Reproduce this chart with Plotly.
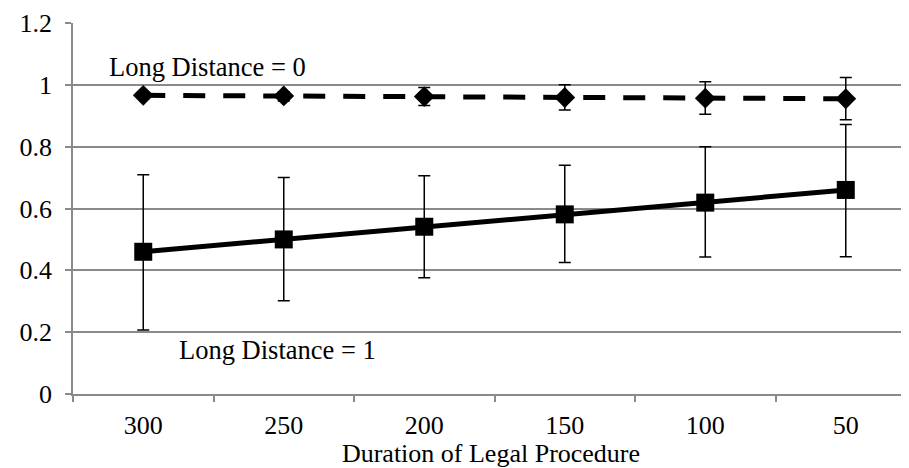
import plotly.graph_objects as go

categories = ["300", "250", "200", "150", "100", "50"]

ld1_values = [0.46, 0.50, 0.541, 0.581, 0.619, 0.66]
ld1_err_plus = [0.249, 0.200, 0.165, 0.159, 0.181, 0.212]
ld1_err_minus = [0.253, 0.198, 0.165, 0.156, 0.176, 0.216]

ld0_values = [0.966, 0.964, 0.962, 0.959, 0.957, 0.955]
ld0_err_plus = [0.008, 0.014, 0.029, 0.041, 0.053, 0.069]
ld0_err_minus = [0.008, 0.016, 0.029, 0.040, 0.052, 0.068]

yticks = [0, 0.2, 0.4, 0.6, 0.8, 1, 1.2]
ytick_text = ["0", "0.2", "0.4", "0.6", "0.8", "1", "1.2"]

FONT = "Liberation Serif"
GRID = "#8a8a8a"

fig = go.Figure()
fig.add_trace(go.Scatter(
    x=categories, y=ld1_values, mode="lines+markers",
    line=dict(color="black", width=5),
    marker=dict(symbol="square", size=18, color="black"),
    error_y=dict(type="data", symmetric=False, array=ld1_err_plus,
                 arrayminus=ld1_err_minus, color="black", thickness=1.5, width=6),
    showlegend=False,
))
fig.add_trace(go.Scatter(
    x=categories, y=ld0_values, mode="lines+markers",
    line=dict(color="black", width=5, dash="22px,18px"),
    marker=dict(symbol="diamond", size=16, color="black"),
    error_y=dict(type="data", symmetric=False, array=ld0_err_plus,
                 arrayminus=ld0_err_minus, color="black", thickness=1.5, width=6),
    showlegend=False,
))

fig.add_annotation(x=0.455, y=1.058, xref="x", yref="y", text="Long Distance = 0",
                   showarrow=False, font=dict(family=FONT, size=26.5, color="black"))
fig.add_annotation(x=0.955, y=0.142, xref="x", yref="y", text="Long Distance = 1",
                   showarrow=False, font=dict(family=FONT, size=26.5, color="black"))

# The page body has an 8px default margin; size the figure to fill the rest.
fig.update_layout(
    width=901, height=460,
    margin=dict(l=65, r=0, t=15, b=74),
    paper_bgcolor="white", plot_bgcolor="white",
    font=dict(family=FONT, size=26, color="black"),
    xaxis=dict(
        type="category", range=[-0.5, 5.45], automargin=False,
        tickson="boundaries", ticks="outside", ticklen=6, tickcolor=GRID, tickwidth=1.5,
        showgrid=False, showline=True, linecolor=GRID, linewidth=1.5,
        ticklabelstandoff=7,
        title=dict(text="Duration of Legal Procedure", standoff=0,
                   font=dict(family=FONT, size=26, color="black")),
        tickfont=dict(family=FONT, size=26, color="black"),
        fixedrange=True,
    ),
    yaxis=dict(
        range=[0, 1.2], tickvals=yticks, ticktext=ytick_text, automargin=False,
        ticks="outside", ticklen=6, tickcolor=GRID, tickwidth=1.5,
        ticklabelstandoff=8,
        showgrid=True, gridcolor=GRID, gridwidth=1.5,
        showline=True, linecolor=GRID, linewidth=1.5, zeroline=False,
        tickfont=dict(family=FONT, size=26, color="black"),
        fixedrange=True,
    ),
)

fig.write_html("out.html")
